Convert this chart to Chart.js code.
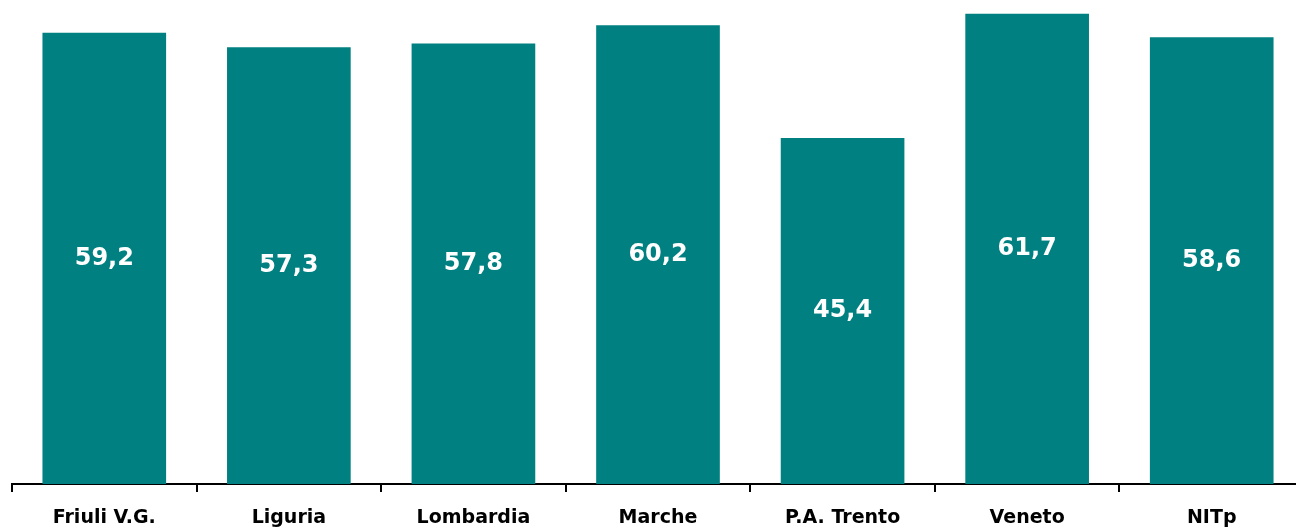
<!DOCTYPE html>
<html>
<head>
<meta charset="utf-8">
<script src="https://cdn.jsdelivr.net/npm/chart.js@4/dist/chart.umd.min.js"></script>
<style>
    html, body { margin: 0; padding: 0; background: #fff; overflow: hidden; }
    #wrap { width: 1304px; height: 530px; }
</style>
</head>
<body>
<div id="wrap"><canvas id="regionChart"></canvas></div>
<script>
const regions = ["Friuli V.G.", "Liguria", "Lombardia", "Marche", "P.A. Trento", "Veneto", "NITp"];
const values = [59.2, 57.3, 57.8, 60.2, 45.4, 61.7, 58.6];

function formatValue(v) {
    return v.toFixed(1).replace(".", ",");
}

// draw the value in the middle of each bar
const barLabels = {
    id: "barLabels",
    afterDatasetsDraw(chart) {
        const ctx = chart.ctx;
        const meta = chart.getDatasetMeta(0);
        ctx.save();
        ctx.fillStyle = "#ffffff";
        ctx.font = "bold 24px 'DejaVu Sans'";
        ctx.textAlign = "center";
        ctx.textBaseline = "middle";
        meta.data.forEach((bar, i) => {
            ctx.fillText(formatValue(values[i]), bar.x, (bar.y + bar.base) / 2);
        });
        ctx.restore();
    }
};

new Chart(document.getElementById("regionChart"), {
    type: "bar",
    data: {
        labels: regions,
        datasets: [{
            data: values,
            backgroundColor: "#008080",
            categoryPercentage: 1,
            barPercentage: 0.67
        }]
    },
    options: {
        responsive: true,
        maintainAspectRatio: false,
        animation: false,
        layout: { padding: { left: 12, right: 0, top: 0, bottom: 0 } },
        plugins: {
            legend: { display: false },
            tooltip: { enabled: false }
        },
        scales: {
            x: {
                offset: true,
                grid: {
                    offset: true,
                    drawOnChartArea: false,
                    color: "#000",
                    lineWidth: 2,
                    tickLength: 8
                },
                border: { color: "#000", width: 2 },
                ticks: {
                    color: "#000",
                    padding: 15,
                    maxRotation: 0,
                    font: { family: "'DejaVu Sans'", size: 19, weight: "bold" }
                },
                afterFit(scale) { scale.height = 46; }
            },
            y: {
                display: false,
                min: 0,
                max: 63.5
            }
        }
    },
    plugins: [barLabels]
});
</script>
</body>
</html>
